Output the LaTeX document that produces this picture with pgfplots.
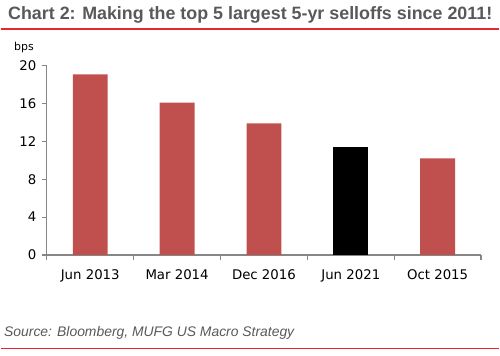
\documentclass[border=0pt]{standalone}
\usepackage{pgfplots}
\pgfplotsset{compat=1.18}
\usepackage{fontspec}
\setmainfont{DejaVu Sans}
\newfontfamily\arialfont{Liberation Sans}
\definecolor{barred}{HTML}{C0504D}
\definecolor{axgray}{HTML}{868686}
\definecolor{titlegray}{HTML}{595959}
\definecolor{linered}{HTML}{E8262B}
\begin{document}
\begin{tikzpicture}[x=1bp,y=1bp]
\path (0,0) rectangle (500,357);
\node[anchor=west,font=\arialfont\bfseries\fontsize{18}{21}\selectfont,text=titlegray,inner sep=0pt] at (7,342) {Chart 2: Making the top 5 largest 5-yr selloffs since 2011!};
\draw[linered,line width=2bp] (0,328) -- (500,328);
\node[anchor=west,font=\fontsize{11}{13}\selectfont,inner sep=0pt] at (13,309) {bps};
\node[anchor=west,font=\arialfont\itshape\fontsize{14}{16}\selectfont,text=titlegray,inner sep=0pt] at (3,23) {Source: Bloomberg, MUFG US Macro Strategy};
\draw[linered,line width=0.8bp] (0,7) -- (500,7);
\begin{axis}[
  at={(46bp,101bp)}, anchor=origin,
  scale only axis, width=436bp, height=190bp,
  xmin=0.5, xmax=5.5, ymin=0, ymax=20,
  ytick={0,4,8,12,16,20},
  xtick={1,2,3,4,5},
  xticklabels={Jun 2013,Mar 2014,Dec 2016,Jun 2021,Oct 2015},
  minor xtick={0.5,1.5,2.5,3.5,4.5,5.5},
  axis lines*=left,
  axis line style={axgray,line width=1.2bp},
  tick style={axgray,line width=1.2bp},
  major x tick style={draw=none},
  tick align=outside,
  major tick length=5bp, minor tick length=5bp,
  ticklabel style={font=\fontsize{13.4}{15}\selectfont},
  /pgf/number format/assume math mode=true,
  xticklabel style={yshift=-6bp},
  yticklabel style={xshift=-2bp},
  ybar, bar width=35bp, bar shift=0pt,
  clip=false,
]
\addplot[fill=barred,draw=none] coordinates {(1,19.1) (2,16.1) (3,13.9) (5,10.2)};
\addplot[fill=black,draw=none] coordinates {(4,11.4)};
\end{axis}
\end{tikzpicture}
\end{document}
